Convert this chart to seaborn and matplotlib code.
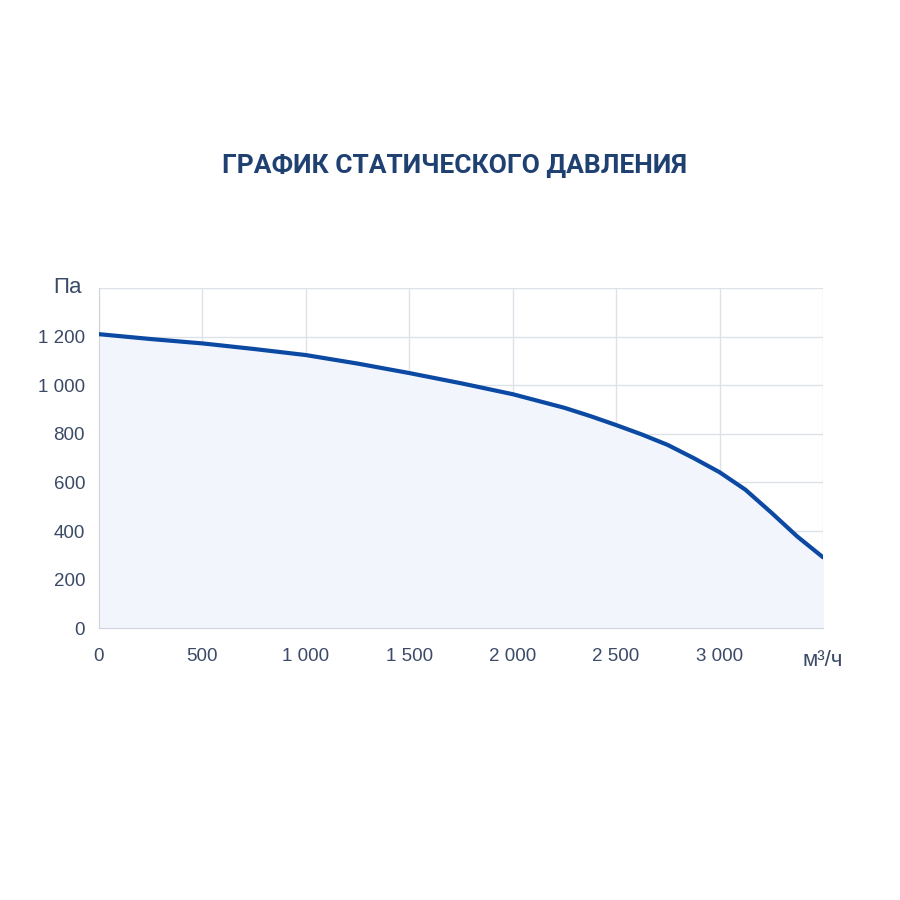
import matplotlib
matplotlib.use('Agg')
import matplotlib.pyplot as plt
import matplotlib.ticker as mticker
import seaborn as sns
import pandas as pd

# Airflow (m3/h) vs static pressure (Pa)
flow = [0, 250, 500, 750, 1000, 1250, 1500, 1750, 2000, 2250, 2375, 2500,
        2625, 2750, 2875, 3000, 3125, 3250, 3375, 3500]
pressure = [1210, 1190, 1172, 1149, 1124, 1089, 1050, 1008, 963, 907, 873, 836,
            797, 754, 700, 642, 570, 476, 378, 292]

x_ticks = [0, 500, 1000, 1500, 2000, 2500, 3000]
y_ticks = [0, 200, 400, 600, 800, 1000, 1200]

df = pd.DataFrame({'flow': flow, 'pressure': pressure})

sns.set_style('white')
plt.rcParams['font.family'] = ['Liberation Sans', 'DejaVu Sans']

text_col = '#3b4a66'
line_col = '#0b49a3'
grid_col = '#dde1e8'

fig = plt.figure(figsize=(9, 9), dpi=100)
ax = fig.add_axes([0.11, 0.302, 0.8044, 0.378])

ax.fill_between(df['flow'], df['pressure'], 0, color='#f2f5fc', zorder=1)
sns.lineplot(x='flow', y='pressure', data=df, ax=ax, color=line_col, linewidth=3, zorder=3)

ax.set_xlim(0, 3500)
ax.set_ylim(0, 1400)
ax.set_xticks(x_ticks + [3500])
ax.set_yticks(y_ticks + [1400])
fmt = lambda v, p: '' if v in (3500, 1400) else f'{int(v):,}'.replace(',', ' ')
ax.xaxis.set_major_formatter(mticker.FuncFormatter(fmt))
ax.yaxis.set_major_formatter(mticker.FuncFormatter(fmt))

ax.grid(True, color=grid_col, linewidth=1, zorder=0)
ax.set_axisbelow(True)
for side in ['top', 'right']:
    ax.spines[side].set_visible(False)
for side in ['left', 'bottom']:
    ax.spines[side].set_color('#cfd4dc')
ax.tick_params(axis='both', length=6, color='#cfd4dc', labelsize=13.5, labelcolor=text_col, pad=4)
ax.tick_params(axis='x', pad=8)
ax.set_xlabel('')
ax.set_ylabel('')

fig.text(0.0755, 0.681, 'Па', fontsize=16, color=text_col, ha='center', va='center')
fig.text(0.9144, 0.266, 'м³/ч', fontsize=16, color=text_col, ha='center', va='center')

fig.text(0.505, 0.816, 'ГРАФИК СТАТИЧЕСКОГО ДАВЛЕНИЯ', fontsize=19, fontweight='bold',
         family=['Roboto', 'DejaVu Sans'], color='#1f4172', ha='center', va='center')

fig.savefig('out.png', dpi=100, facecolor='white')
